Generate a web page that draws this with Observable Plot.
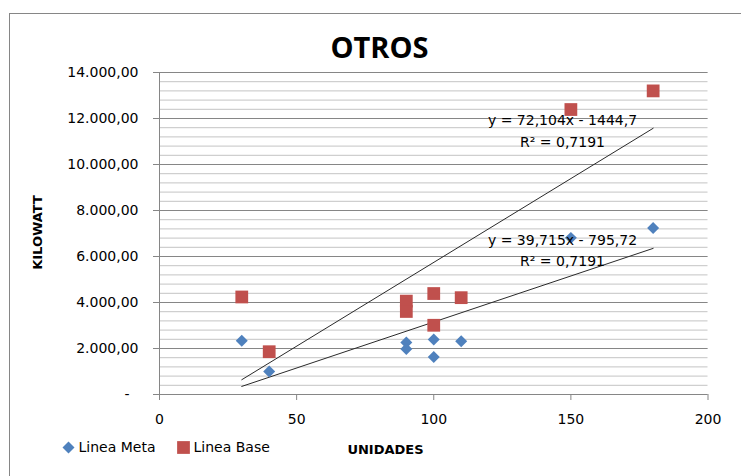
<!DOCTYPE html>
<html>
<head>
<meta charset="utf-8">
<script src="https://cdn.jsdelivr.net/npm/d3@7"></script>
<script src="https://cdn.jsdelivr.net/npm/@observablehq/plot@0.6"></script>
<style>
  html, body { margin: 0; padding: 0; background: #fff; }
</style>
</head>
<body>
<div id="chart"></div>
<script>
// ---- data ----
const metaX = [30, 40, 90, 90, 100, 100, 110, 150, 180];
const metaY = [2340, 1000, 2260, 1980, 2390, 1630, 2320, 6810, 7240];
const baseX = [30, 40, 90, 90, 100, 100, 110, 150, 180];
const baseY = [4240, 1860, 4060, 3610, 4390, 3010, 4210, 12390, 13200];
const seriesNames = ["Linea Meta", "Linea Base"];
const seriesColors = ["#4F81BD", "#C0504D"];
const xTicks = [0, 50, 100, 150, 200];
const yTicks = [0, 2000, 4000, 6000, 8000, 10000, 12000, 14000];
const yMinor = d3.range(0, 14001, 400);
const eqBase = ["y = 72,104x - 1444,7", "R² = 0,7191"];
const eqMeta = ["y = 39,715x - 795,72", "R² = 0,7191"];
const title = "OTROS";
const xLabel = "UNIDADES";
const yLabel = "KILOWATT";

const meta = metaX.map((x, i) => ({x, y: metaY[i]}));
const base = baseX.map((x, i) => ({x, y: baseY[i]}));

const loc = d3.formatLocale({decimal: ",", thousands: ".", grouping: [3], currency: ["", ""]});
const f2 = loc.format(",.2f");
const yFmt = d => d === 0 ? "-\u00a0\u00a0" : f2(d);

const ML = 159, MT = 72;
// helper: text centred at a pixel position, given relative to the frame's top-left corner
const label = (txt, px, py, opts = {}) =>
  Plot.text([txt], {text: d => d, frameAnchor: "top-left", dx: px - ML, dy: py - MT,
    textAnchor: "middle", lineAnchor: "middle", fill: "#000", ...opts});

const chart = Plot.plot({
  width: 741,
  height: 476,
  marginLeft: ML,
  marginRight: 33.5,
  marginTop: MT,
  marginBottom: 82,
  x: {domain: [0, 200]},
  y: {domain: [0, 14000]},
  style: {fontFamily: "DejaVu Sans", fontSize: "14px", color: "#000", background: "#fff"},
  marks: [
    Plot.ruleY(yMinor, {stroke: "#c4c4c4"}),
    Plot.ruleY(yTicks, {stroke: "#868686"}),
    Plot.ruleX([0], {stroke: "#868686"}),
    Plot.axisY({ticks: yTicks, tickSize: 6, tickPadding: 15, tickFormat: yFmt, label: null, stroke: "#868686", fill: "#000", fontSize: 14}),
    Plot.axisX({ticks: xTicks, tickSize: 6, tickPadding: 14, label: null, stroke: "#868686", fill: "#000", fontSize: 14}),
    Plot.linearRegressionY(base, {x: "x", y: "y", ci: 0, stroke: "#2a2a2a", strokeWidth: 1}),
    Plot.linearRegressionY(meta, {x: "x", y: "y", ci: 0, stroke: "#2a2a2a", strokeWidth: 1}),
    Plot.dot(meta, {x: "x", y: "y", symbol: "diamond2", r: 5.4, fill: seriesColors[0], stroke: null}),
    Plot.dot(base, {x: "x", y: "y", symbol: "square", r: 7.2, fill: seriesColors[1], stroke: null}),
    label(eqBase[0], 562, 120, {fontSize: 14}),
    label(eqBase[1], 562, 142, {fontSize: 14}),
    label(eqMeta[0], 562, 240, {fontSize: 14}),
    label(eqMeta[1], 562, 261, {fontSize: 14}),
    label(title, 379, 48, {fontFamily: "Open Sans", fontWeight: "bold", fontSize: 29}),
    label(yLabel, 37, 232, {fontWeight: "bold", fontSize: 13, rotate: -90}),
    label(xLabel, 385, 449, {fontWeight: "bold", fontSize: 13}),
    // legend
    Plot.dot([seriesNames[0]], {frameAnchor: "top-left", dx: 68 - ML, dy: 447 - MT, symbol: "diamond2", r: 5.4, fill: seriesColors[0], stroke: null}),
    label(seriesNames[0], 78, 447, {textAnchor: "start", fontSize: 14}),
    Plot.dot([seriesNames[1]], {frameAnchor: "top-left", dx: 183 - ML, dy: 447 - MT, symbol: "square", r: 7.2, fill: seriesColors[1], stroke: null}),
    label(seriesNames[1], 193, 447, {textAnchor: "start", fontSize: 14})
  ]
});

d3.select(chart).insert("rect", ":first-child")
  .attr("x", 9.5).attr("y", 13.5).attr("width", 800).attr("height", 600)
  .attr("fill", "#fff").attr("stroke", "#868686");

document.getElementById("chart").appendChild(chart);
</script>
</body>
</html>
